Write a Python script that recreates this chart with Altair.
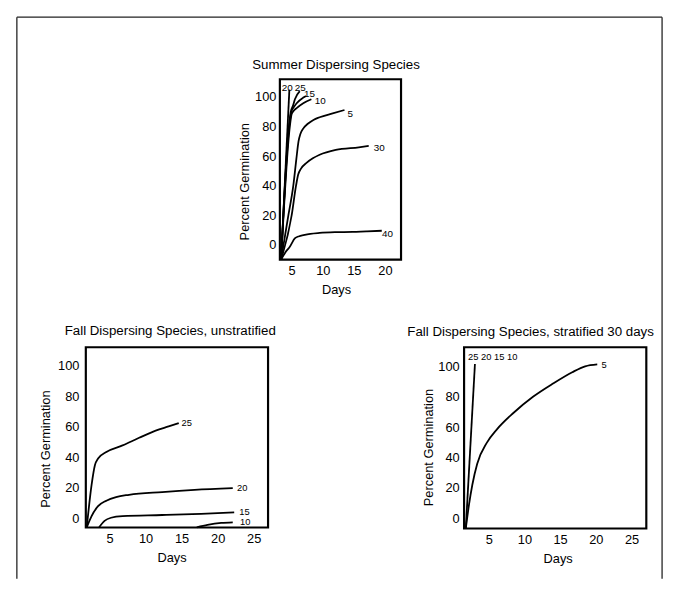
import altair as alt
import pandas as pd

FONT = "Liberation Sans"
W, H = 655, 570

# ---------------- data ----------------
# Summer dispersing species (days, percent germination), one list pair per temperature
s20_days = [3.3, 4.63]
s20_pct = [-10, 105]
s25_days = [3.3, 4.55, 4.84, 5.2, 5.52, 6.3]
s25_pct = [-10, 80, 89.7, 94, 98.5, 104]
s15_days = [3.3, 4.6, 5.0, 5.4, 5.8, 6.86, 7.3]
s15_pct = [-10, 80, 90.7, 93.5, 95.8, 99.6, 100.7]
s10_days = [3.3, 4.7, 5.0, 5.3, 5.8, 6.86, 8.17]
s10_pct = [-10, 80, 88.5, 90.5, 92.5, 95.8, 98.5]
s5_days = [3.3, 4.47, 5.26, 5.75, 6.1, 6.4, 6.85, 7.6, 8.5, 9.5, 11.6, 13.5]
s5_pct = [-10, 20, 40, 58, 70, 75, 78.6, 81.9, 84.5, 86.3, 88.9, 91.2]
s30_days = [3.3, 5.0, 5.7, 6.05, 6.5, 7.38, 8.4, 9.5, 12.1, 15.8, 17.4]
s30_pct = [-10, 20, 40, 47.5, 51.5, 55.4, 58.5, 60.9, 64.2, 66, 66.9]
s40_days = [3.3, 4.0, 4.7, 5.5, 6.2, 6.9, 8.0, 9.5, 12.0, 14.8, 17.0, 19.5]
s40_pct = [-10, -5, -1.3, 4.3, 5.8, 6.5, 7.4, 8.0, 8.5, 8.7, 9.1, 9.5]

summer_label_text = ["20", "25", "15", "10", "5", "30", "40"]
summer_label_days = [3.4, 5.5, 7.0, 8.7, 14.0, 18.2, 19.55]
summer_label_pct = [106.2, 106.2, 102.0, 97.3, 88.5, 65.2, 7.6]

# Fall dispersing species, unstratified
f25_days = [1.83, 2.5, 2.96, 3.4, 4.55, 6.8, 9.1, 11.4, 13.2, 14.6]
f25_pct = [-6, 21.9, 34.8, 39.2, 43.5, 47.8, 52.8, 57.5, 60.3, 62.5]
f20_days = [1.83, 2.5, 3.4, 4.55, 5.9, 7.7, 12.3, 16.8, 22.1]
f20_pct = [-6, 1.4, 7.9, 11.5, 13.9, 15.4, 17.2, 18.6, 19.7]
f15_days = [3.55, 4.3, 5.2, 6.8, 12.3, 17.7, 22.3]
f15_pct = [-6, -1.8, 0.3, 1.4, 2.1, 2.9, 3.8]
f10_days = [17.1, 18.6, 20.5, 22.1]
f10_pct = [-6, -4.4, -3.1, -2.7]

fall_label_text = ["25", "20", "15", "10"]
fall_label_days = [15.0, 22.7, 23.0, 23.1]
fall_label_pct = [62.5, 19.7, 4.2, -2.5]

# Fall dispersing species, stratified 30 days
st_hi_days = [1.79, 3.07]
st_hi_pct = [-6.8, 101.7]
st5_days = [1.79, 2.24, 2.7, 3.39, 4.77, 6.15, 8.45, 11.2, 14.0, 16.7, 18.5, 20.2]
st5_pct = [-6.8, 8.9, 21.9, 35.9, 50, 58.6, 69.4, 80.1, 88.8, 96.3, 100.2, 101.5]

strat_label_text = ["25 20 15 10", "5"]
strat_label_days = [2.1, 20.8]
strat_label_pct = [106.0, 101.0]

y_ticks = [0, 20, 40, 60, 80, 100]
summer_x_ticks = [5, 10, 15, 20]
fall_x_ticks = [5, 10, 15, 20, 25]

summer_x_domain = [3.1, 22.6]
summer_y_domain = [-10, 112]
fall_x_domain = [1.7, 27.0]
fall_y_domain = [-6.1, 112.3]
strat_x_domain = [1.55, 27.07]
strat_y_domain = [-6.8, 112.8]


def lines_frame(series):
    rows = []
    for name, days, pct in series:
        for d, p in zip(days, pct):
            rows.append({"series": name, "day": d, "pct": p})
    return pd.DataFrame(rows)


def labels_frame(text, days, pct):
    return pd.DataFrame({"label": text, "day": days, "pct": pct})


def panel(lines_df, labels_df, xdom, ydom, xrng, yrng, xticks,
          ytx, yty, ylp, xtx, xty, lab_size):
    xs = alt.Scale(domain=xdom, range=xrng, nice=False, zero=False)
    ys = alt.Scale(domain=ydom, range=yrng, nice=False, zero=False)
    xa = alt.Axis(orient="bottom", offset=yrng[0] - H, values=xticks,
                  title="Days", titleX=xtx, titleY=xty, titleAngle=0,
                  titleAlign="center", titleBaseline="top",
                  labelPadding=5, ticks=False, tickSize=0, domain=False,
                  grid=False, labelFlush=False)
    ya = alt.Axis(orient="left", offset=-xrng[0], values=y_ticks,
                  title="Percent Germination", titleX=ytx, titleY=yty,
                  titleAngle=270, titleAlign="center", titleBaseline="bottom",
                  labelPadding=ylp, ticks=False, tickSize=0, domain=False,
                  grid=False)
    box_df = pd.DataFrame({"x0": [xdom[0]], "x1": [xdom[1]],
                           "y0": [ydom[0]], "y1": [ydom[1]]})
    box = alt.Chart(box_df).mark_rect(
        fillOpacity=0, stroke="black", strokeWidth=2.2
    ).encode(
        x=alt.X("x0:Q", scale=xs, axis=xa), x2="x1:Q",
        y=alt.Y("y0:Q", scale=ys, axis=ya), y2="y1:Q",
    )
    curves = alt.Chart(lines_df).mark_line(
        color="black", strokeWidth=1.8, interpolate="monotone"
    ).encode(
        x=alt.X("day:Q", scale=xs, axis=xa),
        y=alt.Y("pct:Q", scale=ys, axis=ya),
        detail="series:N",
    )
    labels = alt.Chart(labels_df).mark_text(
        align="left", baseline="middle", fontSize=lab_size, font=FONT,
        color="black"
    ).encode(
        x=alt.X("day:Q", scale=xs, axis=xa),
        y=alt.Y("pct:Q", scale=ys, axis=ya),
        text="label:N",
    )
    return alt.layer(box, curves, labels)


summer = panel(
    lines_frame([("20", s20_days, s20_pct), ("25", s25_days, s25_pct),
                 ("15", s15_days, s15_pct), ("10", s10_days, s10_pct),
                 ("5", s5_days, s5_pct), ("30", s30_days, s30_pct),
                 ("40", s40_days, s40_pct)]),
    labels_frame(summer_label_text, summer_label_days, summer_label_pct),
    summer_x_domain, summer_y_domain, [267, 390], [246, 63], summer_x_ticks,
    ytx=-28.6, yty=166.5, ylp=4, xtx=324, xty=24.6, lab_size=10,
)

fall = panel(
    lines_frame([("25", f25_days, f25_pct), ("20", f20_days, f20_pct),
                 ("15", f15_days, f15_pct), ("10", f10_days, f10_pct)]),
    labels_frame(fall_label_text, fall_label_days, fall_label_pct),
    fall_x_domain, fall_y_domain, [70, 255], [518, 335], fall_x_ticks,
    ytx=-33.6, yty=438, ylp=7, xtx=157, xty=25, lab_size=9.5,
)

strat = panel(
    lines_frame([("25-10", st_hi_days, st_hi_pct), ("5", st5_days, st5_pct)]),
    labels_frame(strat_label_text, strat_label_days, strat_label_pct),
    strat_x_domain, strat_y_domain, [454, 639], [519, 335], fall_x_ticks,
    ytx=-29.3, yty=436.3, ylp=5, xtx=549, xty=25, lab_size=9.5,
)

one = pd.DataFrame({"k": [0]})
border_left = alt.Chart(one).mark_rule(color="#222", strokeWidth=1.3).encode(
    x=alt.value(0), y=alt.value(0), y2=alt.value(H))
border_top = alt.Chart(one).mark_rule(color="#222", strokeWidth=1.3).encode(
    x=alt.value(0), x2=alt.value(W), y=alt.value(0))
border_right = alt.Chart(one).mark_rule(color="#222", strokeWidth=1.3).encode(
    x=alt.value(W), y=alt.value(0), y2=alt.value(H))


def title_text(txt, px, py):
    return alt.Chart(pd.DataFrame({"t": [txt]})).mark_text(
        fontSize=13.5, font=FONT, color="black", align="center",
        baseline="middle"
    ).encode(x=alt.value(px), y=alt.value(py), text="t:N")


t_summer = title_text("Summer Dispersing Species", 324, 49)
t_fall = title_text("Fall Dispersing Species, unstratified", 155.7, 319)
t_strat = title_text("Fall Dispersing Species, stratified 30 days", 521.5, 320)

chart = alt.layer(
    summer, fall, strat, border_left, border_top, border_right,
    t_summer, t_fall, t_strat,
).resolve_scale(
    x="independent", y="independent"
).properties(
    width=W, height=H,
    padding={"left": 8, "top": 4, "right": 4, "bottom": 0},
    background="white",
).configure_view(
    strokeWidth=0
).configure_axis(
    labelFont=FONT, titleFont=FONT, labelFontSize=13, titleFontSize=13,
    labelColor="black", titleColor="black", titleFontWeight="normal",
)

chart.save("out.html", embed_options={"renderer": "svg", "actions": False})
